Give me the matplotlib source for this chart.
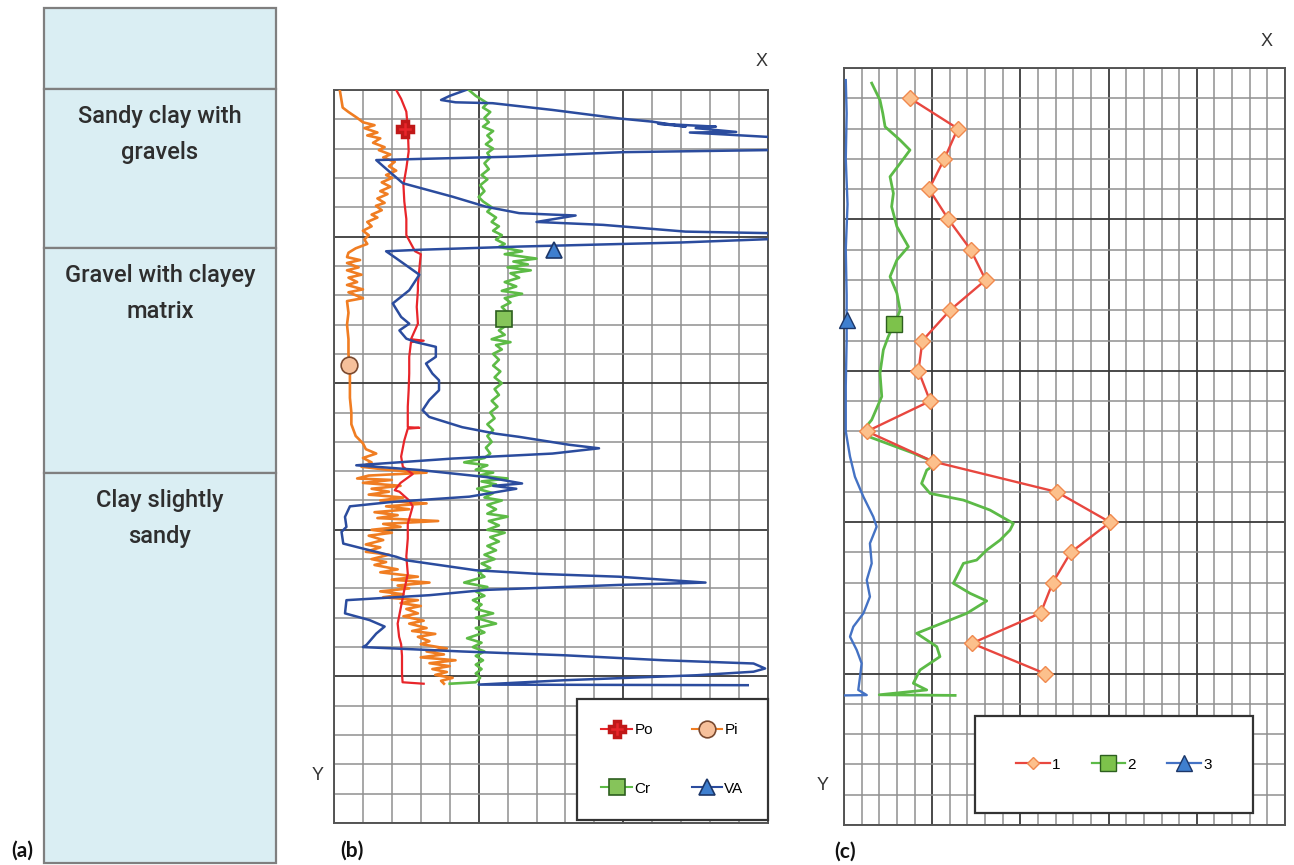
import matplotlib
matplotlib.use('Agg')
import matplotlib.pyplot as plt
from matplotlib import font_manager as fm
from matplotlib.patches import Rectangle
from matplotlib.lines import Line2D
import numpy as np

# ---------------- data ----------------
# (a) lithology column (depth units of the column, 0 = top)
layer_bounds = [0, 81, 240, 465, 855]
layer_names = ["", "Sandy clay with\ngravels", "Gravel with clayey\nmatrix", "Clay slightly\nsandy"]

# (b) log curves: (value, depth) in grid units
po_pts = [(2.15, 0.0), (2.32, 0.3), (2.5, 0.74), (2.55, 1.3), (2.58, 2.1), (2.5, 2.67), (2.4, 3.24),
          (2.43, 3.8), (2.5, 4.4), (2.5, 4.95), (2.8, 5.5), (3.0, 5.6), (2.95, 6.1), (2.9, 6.65),
          (2.9, 6.83), (2.86, 7.4), (2.9, 7.97), (2.66, 8.5), (3.1, 8.55), (2.66, 8.6), (2.6, 9.1),
          (2.6, 9.67), (2.58, 10.24), (2.55, 10.8), (2.55, 11.5), (2.95, 11.52), (2.55, 11.55),
          (2.43, 11.95), (2.32, 12.5), (2.38, 12.85), (2.72, 13.1), (2.3, 13.4), (2.1, 13.65),
          (2.26, 13.7), (2.6, 14.0), (2.72, 14.2), (2.55, 14.8), (2.55, 15.3), (2.5, 15.9),
          (2.55, 16.5), (2.43, 17.05), (2.32, 17.6), (2.2, 18.2), (2.25, 18.65), (2.32, 18.9),
          (2.35, 19.3), (2.35, 19.9), (2.37, 20.2), (3.1, 20.25)]

pi_pts = [(0.2, 0.0), (0.25, 0.3), (0.3, 0.6), (0.5, 0.75), (0.8, 0.95), (1.0, 1.1), (1.4, 1.2),
          (1.05, 1.3), (1.5, 1.45), (1.15, 1.55), (1.6, 1.65), (1.35, 1.8), (1.75, 1.95), (1.55, 2.05),
          (1.95, 2.2), (1.7, 2.3), (2.1, 2.45), (1.9, 2.6), (2.15, 2.75), (1.8, 2.9), (2.0, 3.0),
          (1.65, 3.15), (1.95, 3.3), (1.6, 3.45), (1.85, 3.55), (1.5, 3.7), (1.75, 3.85), (1.45, 3.95),
          (1.65, 4.1), (1.3, 4.25), (1.5, 4.35), (1.15, 4.5), (1.3, 4.65), (1.0, 4.8), (1.2, 4.95),
          (1.05, 5.1), (1.15, 5.25), (0.75, 5.4), (0.5, 5.55), (0.45, 5.7), (0.9, 5.8), (0.45, 5.9),
          (0.85, 6.05), (0.45, 6.15), (0.95, 6.3), (0.5, 6.4), (0.8, 6.55), (0.45, 6.65), (1.0, 6.8),
          (0.5, 6.9), (1.0, 7.1), (0.45, 7.2), (0.5, 7.6), (0.45, 8.0), (0.5, 8.5), (0.5, 9.0),
          (0.55, 9.5), (0.55, 10.0), (0.55, 10.5), (0.6, 11.0), (0.6, 11.4), (0.75, 11.8), (1.0, 12.05),
          (1.1, 12.25), (1.46, 12.4), (1.0, 12.55), (1.3, 12.7), (0.95, 12.85), (1.8, 12.95),
          (3.2, 13.05), (1.2, 13.15), (0.8, 13.25), (2.0, 13.3), (1.0, 13.4), (2.3, 13.5), (1.3, 13.6),
          (1.9, 13.7), (1.2, 13.8), (2.4, 13.9), (1.6, 14.0), (3.2, 14.1), (1.8, 14.2), (2.6, 14.3),
          (1.4, 14.4), (2.2, 14.5), (1.5, 14.6), (3.6, 14.7), (1.7, 14.8), (2.3, 14.9), (1.3, 15.0),
          (2.0, 15.1), (1.2, 15.2), (1.7, 15.35), (1.1, 15.5), (1.6, 15.6), (1.1, 15.75), (1.9, 15.85),
          (1.3, 16.0), (1.8, 16.1), (1.4, 16.2), (2.2, 16.35), (1.6, 16.45), (2.9, 16.6), (2.0, 16.7),
          (3.3, 16.8), (2.2, 16.9), (2.6, 17.0), (1.6, 17.1), (2.4, 17.2), (1.7, 17.3), (2.9, 17.4),
          (2.3, 17.5), (3.0, 17.6), (2.5, 17.7), (2.9, 17.85), (2.4, 17.95), (3.1, 18.1), (2.6, 18.2),
          (3.2, 18.35), (2.7, 18.45), (3.5, 18.55), (2.9, 18.65), (3.3, 18.8), (3.0, 18.9), (3.9, 19.05),
          (3.2, 19.15), (3.8, 19.25), (3.0, 19.35), (4.2, 19.45), (3.3, 19.55), (4.0, 19.65),
          (3.4, 19.75), (3.9, 19.85), (3.5, 19.95), (4.1, 20.05), (3.7, 20.15), (3.8, 20.25)]

cr_pts = [(4.66, 0.0), (4.9, 0.2), (5.3, 0.45), (5.15, 0.6), (5.4, 0.75), (5.2, 0.95), (5.35, 1.1),
          (5.15, 1.25), (5.5, 1.4), (5.3, 1.55), (5.45, 1.7), (5.25, 1.85), (5.5, 2.0), (5.3, 2.15),
          (5.4, 2.3), (5.2, 2.5), (5.35, 2.7), (5.1, 2.9), (5.3, 3.05), (5.05, 3.25), (5.2, 3.45),
          (5.0, 3.65), (5.15, 3.8), (5.45, 4.0), (5.3, 4.15), (5.6, 4.35), (5.45, 4.5), (5.7, 4.65),
          (5.5, 4.8), (5.8, 4.95), (5.6, 5.1), (5.9, 5.25), (5.7, 5.35), (6.5, 5.5), (5.9, 5.6),
          (7.0, 5.75), (6.2, 5.85), (6.7, 5.95), (6.0, 6.05), (6.8, 6.15), (6.1, 6.25), (6.4, 6.4),
          (5.9, 6.55), (6.3, 6.7), (5.8, 6.85), (6.5, 6.95), (5.9, 7.1), (6.1, 7.25), (5.8, 7.4),
          (6.0, 7.6), (5.85, 7.8), (6.0, 8.0), (5.7, 8.2), (5.9, 8.35), (5.45, 8.5), (6.1, 8.6),
          (5.6, 8.7), (5.8, 8.85), (5.5, 9.0), (5.7, 9.2), (5.5, 9.4), (5.75, 9.6), (5.55, 9.8),
          (5.8, 10.0), (5.55, 10.2), (5.7, 10.4), (5.45, 10.6), (5.65, 10.8), (5.4, 11.0), (5.55, 11.2),
          (5.3, 11.4), (5.5, 11.6), (5.3, 11.8), (5.45, 12.0), (5.25, 12.2), (5.4, 12.4), (5.2, 12.55),
          (4.5, 12.7), (5.3, 12.8), (4.9, 12.95), (5.5, 13.05), (5.0, 13.15), (6.0, 13.25), (5.1, 13.35),
          (5.6, 13.45), (4.95, 13.6), (5.5, 13.75), (5.2, 13.9), (5.8, 14.0), (5.3, 14.15), (5.6, 14.3),
          (5.3, 14.45), (6.0, 14.55), (5.35, 14.7), (5.7, 14.85), (5.3, 15.0), (5.9, 15.1), (5.4, 15.25),
          (5.7, 15.4), (5.3, 15.55), (5.6, 15.7), (5.2, 15.85), (5.55, 16.0), (5.1, 16.15), (5.4, 16.3),
          (5.0, 16.45), (5.2, 16.6), (4.5, 16.8), (5.3, 16.95), (4.9, 17.1), (5.2, 17.25), (4.8, 17.4),
          (5.1, 17.55), (4.9, 17.7), (5.5, 17.85), (4.9, 18.0), (5.6, 18.2), (4.9, 18.35), (5.2, 18.5),
          (4.6, 18.7), (5.1, 18.85), (4.8, 19.0), (5.2, 19.15), (4.9, 19.3), (5.15, 19.45), (4.9, 19.6),
          (5.1, 19.75), (4.9, 19.9), (5.05, 20.05), (4.9, 20.2), (4.0, 20.25)]

va_pts = [(4.56, 0.0), (4.0, 0.2), (3.7, 0.34), (4.2, 0.42), (5.48, 0.45), (7.55, 0.68), (9.85, 0.97),
          (11.0, 1.08), (12.15, 1.25), (11.2, 1.15), (13.2, 1.25), (12.5, 1.3), (13.9, 1.43), (12.3, 1.45),
          (15.0, 1.6), (16.0, 1.75), (16.0, 1.95), (15.0, 2.05), (10.0, 2.12), (6.3, 2.27), (3.0, 2.35),
          (1.46, 2.39), (1.7, 2.6), (2.38, 3.18), (4.1, 3.64), (5.25, 3.98), (6.4, 4.2), (7.55, 4.25),
          (8.35, 4.28), (7.0, 4.5), (9.3, 4.6), (12.15, 4.83), (16.0, 4.9), (16.0, 5.05), (12.0, 5.2),
          (6.4, 5.34), (2.95, 5.45), (1.8, 5.5), (2.15, 5.74), (2.95, 6.3), (2.72, 6.65), (2.6, 6.83),
          (2.03, 7.28), (2.32, 7.74), (2.6, 7.97), (2.26, 8.2), (2.5, 8.48), (2.83, 8.6), (3.52, 8.76),
          (3.52, 9.1), (3.18, 9.33), (3.4, 9.67), (3.63, 9.9), (3.63, 10.24), (3.29, 10.58),
          (3.06, 10.92), (3.29, 11.15), (4.43, 11.5), (5.58, 11.72), (6.4, 11.83), (8.13, 12.1),
          (9.16, 12.22), (7.55, 12.4), (4.1, 12.57), (0.77, 12.8), (2.95, 12.96), (5.25, 13.2),
          (6.5, 13.42), (5.5, 13.5), (6.3, 13.6), (4.68, 13.87), (2.0, 14.05), (0.55, 14.2),
          (0.38, 14.56), (0.43, 14.9), (0.26, 15.07), (0.32, 15.47), (1.0, 15.64), (2.15, 15.92),
          (2.5, 16.04), (4.9, 16.38), (7.0, 16.5), (9.85, 16.6), (12.84, 16.8), (9.85, 16.88),
          (5.25, 17.05), (3.3, 17.23), (0.43, 17.4), (0.38, 17.85), (1.23, 18.08), (1.75, 18.3),
          (1.46, 18.54), (1.12, 18.93), (1.0, 19.0), (2.15, 19.05), (4.43, 19.15), (7.98, 19.28),
          (11.4, 19.45), (14.5, 19.56), (14.9, 19.73), (14.5, 19.84), (12.55, 19.96), (7.98, 20.13),
          (5.0, 20.28), (14.3, 20.3)]

# single symbol positions of (b)
po_mark = (2.45, 1.33)
pi_mark = (0.52, 9.39)
cr_mark = (5.86, 7.8)
va_mark = (7.62, 5.46)

# (c) series
s1_depth = list(range(1, 21))
s1_value = [3.74, 6.45, 5.69, 4.82, 5.92, 7.18, 8.03, 6.01, 4.45, 4.22,
            4.88, 1.3, 5.07, 12.06, 15.08, 12.85, 11.83, 11.15, 7.25, 11.4]
s2_pts = [(1.57, 0.5), (2.04, 1.06), (2.2, 1.5), (2.33, 1.94), (3.18, 2.38), (3.74, 2.71), (3.18, 3.15),
          (2.61, 3.59), (2.8, 4.14), (2.7, 4.58), (3.0, 5.24), (3.65, 5.9), (3.0, 6.34), (2.61, 6.89),
          (3.0, 7.44), (3.18, 8.0), (2.9, 8.4), (2.51, 8.87), (2.23, 9.31), (2.04, 10.08), (2.14, 10.85),
          (1.57, 11.62), (1.1, 11.95), (1.38, 12.17), (3.93, 12.72), (5.26, 13.06), (4.69, 13.28),
          (4.4, 13.72), (4.88, 14.05), (6.77, 14.27), (8.28, 14.6), (9.6, 15.04), (9.41, 15.26),
          (8.85, 15.59), (8.09, 15.92), (7.52, 16.25), (6.77, 16.36), (6.58, 16.58), (6.2, 17.02),
          (7.15, 17.35), (8.09, 17.6), (6.96, 18.01), (4.12, 18.67), (5.26, 19.11), (5.44, 19.44),
          (4.31, 19.88), (3.93, 20.32), (4.69, 20.54), (2.0, 20.7), (6.3, 20.72)]
s3_pts = [(0.1, 0.4), (0.15, 1.5), (0.1, 3.0), (0.2, 4.5), (0.1, 6.0), (0.15, 7.5), (0.15, 9.0),
          (0.1, 10.5), (0.1, 12.0), (0.34, 12.83), (0.62, 13.5), (1.1, 14.16), (1.66, 14.82),
          (1.85, 15.15), (1.47, 15.7), (1.57, 16.36), (1.29, 16.91), (1.47, 17.46), (1.1, 18.01),
          (0.53, 18.45), (0.34, 18.78), (0.72, 19.22), (1.0, 19.66), (0.91, 20.1), (0.81, 20.54),
          (1.29, 20.71), (0.06, 20.72)]
s2_mark = (2.85, 8.44)
s3_mark = (0.15, 8.33)

# ---------------- fonts ----------------
names = {f.name for f in fm.fontManager.ttflist}
narrow = 'Liberation Sans Narrow' if 'Liberation Sans Narrow' in names else 'Roboto'
lith_size = 20.5 if narrow == 'Liberation Sans Narrow' else 17
plt.rcParams['font.family'] = ['Liberation Sans', 'DejaVu Sans']

W, H = 1294, 865
fig = plt.figure(figsize=(W / 100, H / 100), dpi=100)
fig.patch.set_facecolor('white')


def ax_rect(x0, y0, x1, y1):
    return [x0 / W, 1 - y1 / H, (x1 - x0) / W, (y1 - y0) / H]


# ---------------- (a) ----------------
axa = fig.add_axes(ax_rect(44, 8, 276, 863))
axa.set_xlim(0, 1)
axa.set_ylim(layer_bounds[-1], layer_bounds[0])
axa.axis('off')
for i, name in enumerate(layer_names):
    top, bot = layer_bounds[i], layer_bounds[i + 1]
    axa.add_patch(Rectangle((0, top), 1, bot - top, facecolor='#daeef3', edgecolor='#7f7f7f',
                            linewidth=1.6, clip_on=False))
    if name:
        axa.text(0.5, top + 16, name, ha='center', va='top', fontsize=lith_size,
                 family=[narrow, 'DejaVu Sans'], fontweight='medium', color='#2e2e2e',
                 linespacing=1.72)


def grid_axes(ax, nx, ny):
    ax.set_xlim(0, nx)
    ax.set_ylim(ny, 0)
    ax.set_xticks(np.arange(0, nx + 1, 5))
    ax.set_yticks(np.arange(0, ny + 1, 5))
    ax.set_xticks(np.arange(0, nx + 1, 1), minor=True)
    ax.set_yticks(np.arange(0, ny + 1, 1), minor=True)
    ax.tick_params(which='both', length=0, labelbottom=False, labelleft=False)
    ax.grid(which='minor', color='#8f8f8f', linewidth=1.1)
    ax.grid(which='major', color='#3a3a3a', linewidth=1.3)
    ax.set_axisbelow(True)
    for s in ax.spines.values():
        s.set_color('#555555')
        s.set_linewidth(1.4)


# ---------------- (b) ----------------
axb = fig.add_axes(ax_rect(334, 90, 768, 823))
grid_axes(axb, 15, 25)

c_po, c_pi, c_cr, c_va = '#e8252a', '#f07d22', '#5dbb46', '#2b4c9e'
for pts, col, lw in [(pi_pts, c_pi, 1.9), (po_pts, c_po, 1.6), (cr_pts, c_cr, 1.9), (va_pts, c_va, 1.8)]:
    a = np.array(pts)
    axb.plot(a[:, 0], a[:, 1], color=col, lw=lw, zorder=3)

mk_po = dict(marker='P', ms=12, mfc='#e8252a', mec='#c01818', mew=2.5)
mk_pi = dict(marker='o', ms=12, mfc='#f6c09b', mec='#7a4a30', mew=1.2)
mk_cr = dict(marker='s', ms=12, mfc='#86c45a', mec='#2d5f1f', mew=1.2)
mk_va = dict(marker='^', ms=12, mfc='#3f7fcf', mec='#1c3668', mew=1.2)
for pos, mk in [(po_mark, mk_po), (pi_mark, mk_pi), (cr_mark, mk_cr), (va_mark, mk_va)]:
    axb.plot([pos[0]], [pos[1]], linestyle='none', zorder=5, **mk)

hb = [Line2D([], [], color=c_po, lw=1.5, **mk_po), Line2D([], [], color=c_cr, lw=1.5, **mk_cr),
      Line2D([], [], color=c_pi, lw=1.5, **mk_pi), Line2D([], [], color=c_va, lw=1.5, **mk_va)]
legb = axb.legend(hb, ['Po', 'Cr', 'Pi', 'VA'], ncol=2, loc='lower left',
                  bbox_to_anchor=(0.56, 0.004, 0.44, 0.161), mode='expand', fancybox=False,
                  edgecolor='#333333', framealpha=1, fontsize=11, handlelength=2.0,
                  handletextpad=0.15, labelspacing=2.9, borderpad=1.6, borderaxespad=0)
legb.get_frame().set_linewidth(1.6)

# ---------------- (c) ----------------
axc = fig.add_axes(ax_rect(844, 68, 1285, 825))
grid_axes(axc, 25, 25)

c1, c2, c3 = '#e8473f', '#5cba47', '#4472c4'
mk1 = dict(marker='D', ms=8, mfc='#fcc08c', mec='#f0894e', mew=1.0)
mk2 = dict(marker='s', ms=12, mfc='#7dc24b', mec='#2d5f1f', mew=1.0)
mk3 = dict(marker='^', ms=11, mfc='#3f7fcf', mec='#1c3668', mew=1.0)
axc.plot(s1_value, s1_depth, color=c1, lw=1.7, zorder=4, **mk1)
a2 = np.array(s2_pts)
axc.plot(a2[:, 0], a2[:, 1], color=c2, lw=2.0, zorder=3)
a3 = np.array(s3_pts)
axc.plot(a3[:, 0], a3[:, 1], color=c3, lw=1.7, zorder=3)
axc.plot([s2_mark[0]], [s2_mark[1]], linestyle='none', zorder=5, **mk2)
axc.plot([s3_mark[0]], [s3_mark[1]], linestyle='none', zorder=5, clip_on=False, **mk3)

hc = [Line2D([], [], color=c1, lw=1.6, **dict(mk1, ms=6)), Line2D([], [], color=c2, lw=1.6, **mk2),
      Line2D([], [], color=c3, lw=1.6, **mk3)]
legc = axc.legend(hc, ['1', '2', '3'], ncol=3, loc='lower left',
                  bbox_to_anchor=(0.297, 0.016, 0.63, 0.127), mode='expand', fancybox=False,
                  edgecolor='#333333', framealpha=1, fontsize=11, handlelength=2.2,
                  handletextpad=0.15, borderpad=2.7, borderaxespad=0)
legc.get_frame().set_linewidth(1.6)

# ---------------- labels ----------------
lab = dict(fontsize=13, color='#333333', ha='center', va='center')
fig.text(762 / W, 1 - 62 / H, 'X', **lab)
fig.text(318 / W, 1 - 775 / H, 'Y', **lab)
fig.text(1267 / W, 1 - 42 / H, 'X', **lab)
fig.text(823 / W, 1 - 785 / H, 'Y', **lab)

pl = dict(fontsize=15, fontweight='bold', family=['Lato', 'DejaVu Sans'], color='#111111',
          ha='center', va='center')
fig.text(22 / W, 1 - 851 / H, '(a)', **pl)
fig.text(352 / W, 1 - 851 / H, '(b)', **pl)
fig.text(845 / W, 1 - 852 / H, '(c)', **pl)

fig.savefig('out.png', dpi=100, facecolor='white')
